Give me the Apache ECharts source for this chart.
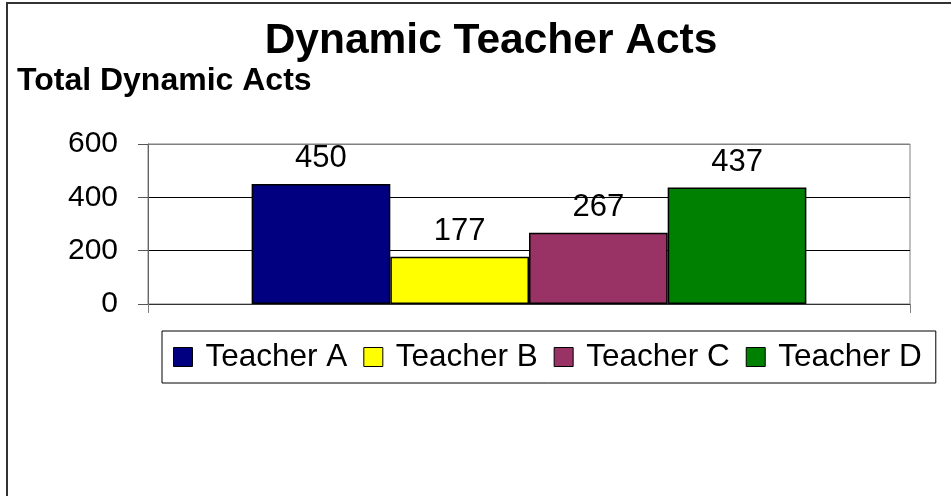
<!DOCTYPE html>
<html>
<head>
<meta charset="utf-8">
<title>Dynamic Teacher Acts</title>
<script src="https://cdn.jsdelivr.net/npm/echarts@6/dist/echarts.min.js"></script>
<style>
	html, body { margin: 0; padding: 0; background: #fff; }
	#teacher_chart { width: 951px; height: 496px; }
</style>
</head>
<body>
<div id="teacher_chart"></div>
<script>
	// values
	var categories = [''];
	var teachers = ['Teacher A', 'Teacher B', 'Teacher C', 'Teacher D'];
	var teacherValues = [450, 177, 267, 437];
	var teacherColors = ['#000080', '#ffff00', '#993366', '#008000'];
	var yTicks = [0, 200, 400, 600];

	var font = 'Liberation Sans, Arial, sans-serif';
	var chart = echarts.init(document.getElementById('teacher_chart'));

	var series = [];
	for (var i = 0; i < teachers.length; i++) {
		series.push({
			name: teachers[i],
			type: 'bar',
			data: [teacherValues[i]],
			barGap: '0%',
			barCategoryGap: '27.2%',
			itemStyle: { color: teacherColors[i], borderColor: '#000', borderWidth: 1.5 },
			label: {
				show: true, position: 'top', distance: 10,
				color: '#000', fontSize: 31, fontFamily: font
			}
		});
	}

	var option = {
		animation: false,
		backgroundColor: '#fff',
		textStyle: { fontFamily: font },
		title: [
			{
				text: 'Dynamic Teacher Acts',
				left: 491, top: 20, textAlign: 'center', padding: 0,
				textStyle: { fontSize: 42.5, fontWeight: 'bold', color: '#000', fontFamily: font }
			},
			{
				text: 'Total Dynamic Acts',
				left: 17, top: 65, padding: 0,
				textStyle: { fontSize: 32, fontWeight: 'bold', color: '#000', fontFamily: font }
			}
		],
		legend: {
			data: teachers,
			left: 162, top: 331,
			padding: [10, 14, 10, 11],
			itemWidth: 19, itemHeight: 19, itemGap: 16,
			icon: 'rect',
			borderColor: '#000', borderWidth: 1,
			itemStyle: { borderColor: '#000', borderWidth: 1 },
			textStyle: { fontSize: 31.5, color: '#000', fontFamily: font, padding: [0, 0, 0, 8] }
		},
		grid: {
			left: 148, right: 41, top: 144, bottom: 192,
			show: true, borderColor: '#808080', borderWidth: 1
		},
		xAxis: {
			type: 'category',
			data: categories,
			axisLine: { lineStyle: { color: '#333', width: 1 } },
			axisTick: { show: true, length: 9, lineStyle: { color: '#808080' } },
			axisLabel: { show: false },
			splitLine: { show: false }
		},
		yAxis: {
			type: 'value',
			min: yTicks[0], max: yTicks[yTicks.length - 1], interval: 200,
			axisLine: { show: true, lineStyle: { color: '#666' } },
			axisTick: { show: true, length: 10, lineStyle: { color: '#555' } },
			axisLabel: { margin: 30, fontSize: 30, color: '#000', fontFamily: font },
			splitLine: { show: true, lineStyle: { color: ['#000', '#000', '#000', '#808080'], width: 1 } }
		},
		graphic: [
			{
				type: 'rect', silent: true, z: 100,
				shape: { x: 7, y: 3, width: 1200, height: 800 },
				style: { fill: 'none', stroke: '#333', lineWidth: 2 }
			}
		],
		series: series
	};
	chart.setOption(option);
</script>
</body>
</html>
